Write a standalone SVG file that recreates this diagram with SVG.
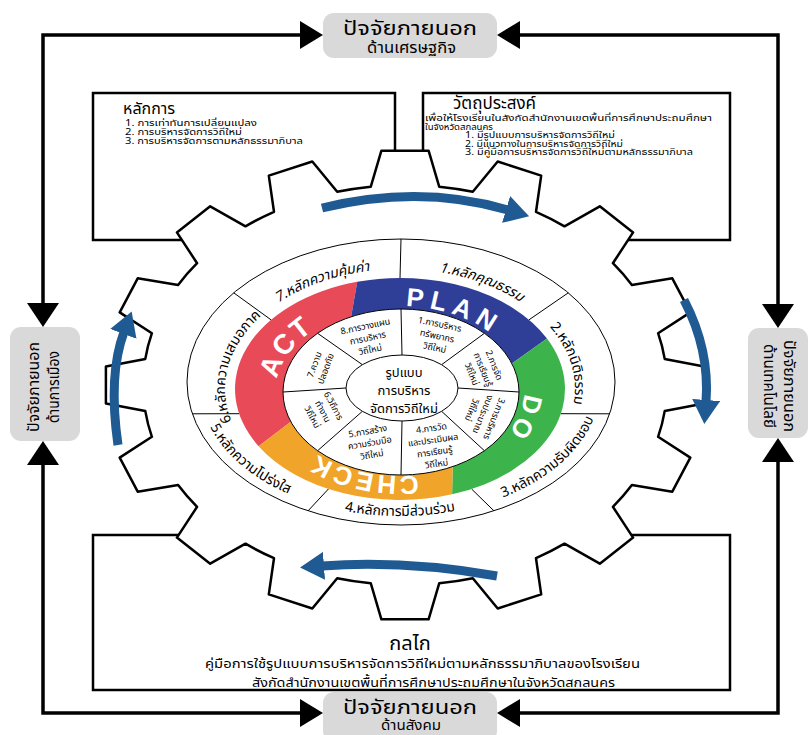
<svg xmlns="http://www.w3.org/2000/svg" width="811" height="735" viewBox="0 0 811 735">
<defs>
<style>
.t{font-family:"Noto Sans Thai","Noto Sans","DejaVu Sans","Liberation Sans",sans-serif;fill:#000}
.frame{stroke:#000;stroke-width:3.5;fill:none}
.ah{fill:#000}
.lbl{fill:#d9d9d9}
.box{fill:#fff;stroke:#000;stroke-width:2.5}
.gear{fill:#fff;stroke:#000;stroke-width:2.5;stroke-linejoin:round}
.thin{stroke:#000;stroke-width:1;fill:none}
.ring{fill:#fff;stroke:#000;stroke-width:1}
.barr{fill:none;stroke:#1f5a92;stroke-width:9}
.pd{font-family:"Liberation Sans","DejaVu Sans",sans-serif;font-weight:bold;fill:#fff}
</style>
<marker id="bh" markerUnits="userSpaceOnUse" markerWidth="24" markerHeight="28" viewBox="0 0 24 28" refX="2" refY="14" orient="auto">
<path d="M0 0 L24 14 L0 28 Z" fill="#1f5a92"/>
</marker>
<path id="tp" d="M 400 509 A 175 120 0 0 1 400 269 A 175 120 0 0 1 400 509 A 175 120 0 0 1 400 269 A 175 120 0 0 1 400 509"/>
<path id="bp" d="M 400 256 A 200 130 0 0 0 400 516 A 200 130 0 0 0 400 256 A 200 130 0 0 0 400 516"/>
<path id="cp" d="M 400 476 A 124 85 0 0 1 400 306 A 124 85 0 0 1 400 476 A 124 85 0 0 1 400 306 A 124 85 0 0 1 400 476"/>
</defs>
<rect width="811" height="735" fill="#fff"/>

<g id="connectors">
<path class="frame" d="M 300 35 L 43 35 L 43 305"/>
<path class="frame" d="M 520 35 L 778 35 L 778 305"/>
<path class="frame" d="M 43 462 L 43 713 L 300 713"/>
<path class="frame" d="M 778 462 L 778 713 L 520 713"/>
<path class="ah" d="M 323 35 L 300 21 L 300 49 Z"/>
<path class="ah" d="M 497 35 L 520 21 L 520 49 Z"/>
<path class="ah" d="M 323 713 L 300 699 L 300 727 Z"/>
<path class="ah" d="M 497 713 L 520 699 L 520 727 Z"/>
<path class="ah" d="M 43 327 L 27 303 L 59 303 Z"/>
<path class="ah" d="M 43 441 L 27 465 L 59 465 Z"/>
<path class="ah" d="M 778 328 L 762 304 L 794 304 Z"/>
<path class="ah" d="M 778 438 L 762 462 L 794 462 Z"/>
</g>

<g id="box-principles">
<rect class="box" x="93" y="93" width="302" height="147"/>
</g>
<g id="box-objectives">
<rect class="box" x="423" y="93" width="307" height="147"/>
</g>
<g id="box-mechanism">
<rect class="box" x="93" y="535" width="637" height="155"/>
</g>

<g id="gear">
<path class="gear" d="M 370.8 186.7 L 381.4 150.7 L 428.6 150.7 L 439.2 186.7 A 262 200 0 0 1 472.8 191.8 L 497.7 161.5 L 541.2 175.6 L 536 211.8 A 262 200 0 0 1 564.5 226.3 L 599.8 206.3 L 633.1 232.4 L 612.9 263.2 A 262 200 0 0 1 631.9 285 L 672.3 278.3 L 690.3 312.4 L 658.1 333.2 A 262 200 0 0 1 664.7 358.9 L 704.1 366.6 L 704.1 403.4 L 664.7 411.1 A 262 200 0 0 1 658.1 436.8 L 690.3 457.6 L 672.3 491.7 L 631.9 485 A 262 200 0 0 1 612.9 506.8 L 633.1 537.6 L 599.8 563.7 L 564.5 543.7 A 262 200 0 0 1 536 558.2 L 541.2 594.4 L 497.7 608.5 L 472.8 578.2 A 262 200 0 0 1 439.2 583.3 L 428.6 619.3 L 381.4 619.3 L 370.8 583.3 A 262 200 0 0 1 337.2 578.2 L 312.3 608.5 L 268.8 594.4 L 274 558.2 A 262 200 0 0 1 245.5 543.7 L 210.2 563.7 L 176.9 537.6 L 197.1 506.8 A 262 200 0 0 1 178.1 485 L 137.7 491.7 L 119.7 457.6 L 151.9 436.8 A 262 200 0 0 1 145.3 411.1 L 105.9 403.4 L 105.9 366.6 L 145.3 358.9 A 262 200 0 0 1 151.9 333.2 L 119.7 312.4 L 137.7 278.3 L 178.1 285 A 262 200 0 0 1 197.1 263.2 L 176.9 232.4 L 210.2 206.3 L 245.5 226.3 A 262 200 0 0 1 274 211.8 L 268.8 175.6 L 312.3 161.5 L 337.2 191.8 A 262 200 0 0 1 370.8 186.7 Z"/>
</g>

<g id="box-principles-text">
<text class="t" x="123" y="114" font-size="16">หลักการ</text>
<text class="t" x="125" y="126" font-size="8.5" textLength="132" lengthAdjust="spacingAndGlyphs">1. การเท่าทันการเปลี่ยนแปลง</text>
<text class="t" x="125" y="135" font-size="8.5" textLength="117" lengthAdjust="spacingAndGlyphs">2. การบริหารจัดการวิถีใหม่</text>
<text class="t" x="125" y="144" font-size="8.5" textLength="178" lengthAdjust="spacingAndGlyphs">3. การบริหารจัดการตามหลักธรรมาภิบาล</text>
</g>
<g id="box-objectives-text">
<text class="t" x="453" y="109" font-size="17">วัตถุประสงค์</text>
<text class="t" x="425" y="121" font-size="8.5" textLength="287" lengthAdjust="spacingAndGlyphs">เพื่อให้โรงเรียนในสังกัดสำนักงานเขตพื้นที่การศึกษาประถมศึกษา</text>
<text class="t" x="425" y="129.5" font-size="8.5" textLength="68" lengthAdjust="spacingAndGlyphs">ในจังหวัดสกลนคร</text>
<text class="t" x="465" y="138" font-size="8.5" textLength="150" lengthAdjust="spacingAndGlyphs">1. มีรูปแบบการบริหารจัดการวิถีใหม่</text>
<text class="t" x="465" y="146.5" font-size="8.5" textLength="158" lengthAdjust="spacingAndGlyphs">2. มีแนวทางในการบริหารจัดการวิถีใหม่</text>
<text class="t" x="465" y="155" font-size="8.5" textLength="228" lengthAdjust="spacingAndGlyphs">3. มีคู่มือการบริหารจัดการวิถีใหม่ตามหลักธรรมาภิบาล</text>
</g>
<g id="box-mechanism-text">
<text class="t" x="410" y="650" font-size="20" text-anchor="middle">กลไก</text>
<text class="t" x="205" y="668" font-size="13" textLength="435" lengthAdjust="spacingAndGlyphs">คู่มือการใช้รูปแบบการบริหารจัดการวิถีใหม่ตามหลักธรรมาภิบาลของโรงเรียน</text>
<text class="t" x="252" y="687" font-size="13" textLength="363" lengthAdjust="spacingAndGlyphs">สังกัดสำนักงานเขตพื้นที่การศึกษาประถมศึกษาในจังหวัดสกลนคร</text>
</g>

<g id="cycle-arrows">
<path class="barr" d="M 322 208 Q 420 184 508 210" marker-end="url(#bh)"/>
<path class="barr" d="M 684 300 Q 710 350 706 402" marker-end="url(#bh)"/>
<path class="barr" d="M 497 576 Q 405 560 322 566" marker-end="url(#bh)"/>
<path class="barr" d="M 118 445 Q 108 375 124 332" marker-end="url(#bh)"/>
</g>

<g id="wheel">
<ellipse class="ring" cx="401" cy="382" rx="214" ry="143" stroke-width="1.2"/>
<g class="thin">
<line x1="400" y1="278" x2="401" y2="239"/>
<line x1="529" y1="319.8" x2="568.3" y2="292.8"/>
<line x1="560.9" y1="413.7" x2="609.6" y2="413.8"/>
<line x1="471.6" y1="489" x2="493.9" y2="510.8"/>
<line x1="328.4" y1="489" x2="308.1" y2="510.8"/>
<line x1="239.1" y1="413.7" x2="192.4" y2="413.8"/>
<line x1="271" y1="319.8" x2="233.7" y2="292.8"/>
</g>
<path id="seg-act" fill="#e94a58" d="M 258.6 446.2 A 165 111 0 0 1 357.3 281.8 L 351.1 316.8 A 118 83 0 0 0 290.8 421.7 Z"/>
<path id="seg-plan" fill="#2f3f98" d="M 357.3 281.8 A 165 111 0 0 1 547 338.6 L 511.9 363.6 A 118 83 0 0 0 351.1 316.8 Z"/>
<path id="seg-do" fill="#3cb44b" d="M 547 338.6 A 165 111 0 0 1 452.1 494.3 L 452.7 466.6 A 118 83 0 0 0 511.9 363.6 Z"/>
<path id="seg-check" fill="#f1a42a" d="M 452.1 494.3 A 165 111 0 0 1 258.6 446.2 L 290.8 421.7 A 118 83 0 0 0 452.7 466.6 Z"/>
<ellipse class="ring" cx="401" cy="392" rx="118" ry="83"/>
<g class="thin">
<line x1="402" y1="355" x2="401" y2="309"/>
<line x1="441.6" y1="364.7" x2="484.4" y2="333.3"/>
<line x1="458" y1="388" x2="519" y2="392"/>
<line x1="441.6" y1="411.3" x2="484.4" y2="450.7"/>
<line x1="402" y1="421" x2="401" y2="475"/>
<line x1="362.4" y1="411.3" x2="317.6" y2="450.7"/>
<line x1="346" y1="388" x2="283" y2="392"/>
<line x1="362.4" y1="364.7" x2="317.6" y2="333.3"/>
</g>
<ellipse class="ring" cx="402" cy="388" rx="56" ry="33"/>
<text class="t" font-size="13" text-anchor="middle"><tspan x="404" y="377">รูปแบบ</tspan><tspan x="404" y="395">การบริหาร</tspan><tspan x="404" y="413">จัดการวิถีใหม่</tspan></text>

<text class="t" font-size="14"><textPath href="#tp" startOffset="259" text-anchor="middle">6.หลักความเสมอภาค</textPath></text>
<text class="t" font-size="14" font-style="italic"><textPath href="#tp" startOffset="388" text-anchor="middle">7.หลักความคุ้มค่า</textPath></text>
<text class="t" font-size="14" font-style="italic"><textPath href="#tp" startOffset="550" text-anchor="middle">1.หลักคุณธรรม</textPath></text>
<text class="t" font-size="14"><textPath href="#tp" startOffset="674" text-anchor="middle">2.หลักนิติธรรม</textPath></text>
<text class="t" font-size="14"><textPath href="#bp" startOffset="357" text-anchor="middle">5.หลักความโปร่งใส</textPath></text>
<text class="t" font-size="14"><textPath href="#bp" startOffset="524" text-anchor="middle">4.หลักการมีส่วนร่วม</textPath></text>
<text class="t" font-size="14"><textPath href="#bp" startOffset="691" text-anchor="middle">3.หลักความรับผิดชอบ</textPath></text>

<text class="pd" font-size="28" letter-spacing="2"><textPath href="#cp" startOffset="209" text-anchor="middle">ACT</textPath></text>
<text class="pd" font-size="26" letter-spacing="6"><textPath href="#cp" startOffset="384" text-anchor="middle">PLAN</textPath></text>
<text class="pd" font-size="26" letter-spacing="3"><textPath href="#cp" startOffset="521" text-anchor="middle">DO</textPath></text>
<text class="pd" font-size="26" letter-spacing="3"><textPath href="#cp" startOffset="697" text-anchor="middle">CHECK</textPath></text>

<text class="t" font-size="9" text-anchor="middle" transform="translate(437,337) rotate(12)"><tspan x="0" y="-10">1.การบริหาร</tspan><tspan x="0" y="2">ทรัพยากร</tspan><tspan x="0" y="14">วิถีใหม่</tspan></text>
<text class="t" font-size="9" text-anchor="middle" transform="translate(482,370) rotate(68)"><tspan x="0" y="-10">2.การจัด</tspan><tspan x="0" y="2">การเรียนรู้</tspan><tspan x="0" y="14">วิถีใหม่</tspan></text>
<text class="t" font-size="9" text-anchor="middle" transform="translate(482,414) rotate(112)"><tspan x="0" y="-10">3.การบริหาร</tspan><tspan x="0" y="2">งบประมาณ</tspan><tspan x="0" y="14">วิถีใหม่</tspan></text>
<text class="t" font-size="9" text-anchor="middle" transform="translate(434,446) rotate(-8)"><tspan x="0" y="-15">4.การวัด</tspan><tspan x="0" y="-3">และประเมินผล</tspan><tspan x="0" y="9">การเรียนรู้</tspan><tspan x="0" y="21">วิถีใหม่</tspan></text>
<text class="t" font-size="9" text-anchor="middle" transform="translate(370,444) rotate(-10)"><tspan x="0" y="-10">5.การสร้าง</tspan><tspan x="0" y="2">ความร่วมมือ</tspan><tspan x="0" y="14">วิถีใหม่</tspan></text>
<text class="t" font-size="9" text-anchor="middle" transform="translate(322,412) rotate(62)"><tspan x="0" y="-10">6.วิถีการ</tspan><tspan x="0" y="2">ทำงาน</tspan><tspan x="0" y="14">วิถีใหม่</tspan></text>
<text class="t" font-size="9" text-anchor="middle" transform="translate(321,367) rotate(-70)"><tspan x="0" y="-4">7.ความ</tspan><tspan x="0" y="8">ปลอดภัย</tspan></text>
<text class="t" font-size="9" text-anchor="middle" transform="translate(368,339) rotate(-12)"><tspan x="0" y="-10">8.การวางแผน</tspan><tspan x="0" y="2">การบริหาร</tspan><tspan x="0" y="14">วิถีใหม่</tspan></text>
</g>

<g id="node-economy">
<rect class="lbl" x="323" y="13" width="174" height="45" rx="11"/>
<text class="t" x="343" y="35" font-size="20" textLength="134" lengthAdjust="spacingAndGlyphs">ปัจจัยภายนอก</text>
<text class="t" x="367" y="53" font-size="15" textLength="89" lengthAdjust="spacingAndGlyphs">ด้านเศรษฐกิจ</text>
</g>
<g id="node-society">
<rect class="lbl" x="323" y="692" width="174" height="50" rx="11"/>
<text class="t" x="343" y="714" font-size="20" textLength="134" lengthAdjust="spacingAndGlyphs">ปัจจัยภายนอก</text>
<text class="t" x="381" y="730" font-size="14" textLength="60" lengthAdjust="spacingAndGlyphs">ด้านสังคม</text>
</g>
<g id="node-politics">
<rect class="lbl" x="10" y="327" width="70" height="114" rx="11"/>
<g transform="translate(45,387) rotate(-90)">
<text class="t" x="-45" y="-6" font-size="16" textLength="90" lengthAdjust="spacingAndGlyphs">ปัจจัยภายนอก</text>
<text class="t" x="-36" y="14" font-size="15" textLength="72" lengthAdjust="spacingAndGlyphs">ด้านการเมือง</text>
</g>
</g>
<g id="node-technology">
<rect class="lbl" x="748" y="328" width="60" height="110" rx="11"/>
<g transform="translate(778,386) rotate(90)">
<text class="t" x="-46" y="-6" font-size="16" textLength="92" lengthAdjust="spacingAndGlyphs">ปัจจัยภายนอก</text>
<text class="t" x="-42" y="14" font-size="15" textLength="84" lengthAdjust="spacingAndGlyphs">ด้านเทคโนโลยี</text>
</g>
</g>
</svg>
